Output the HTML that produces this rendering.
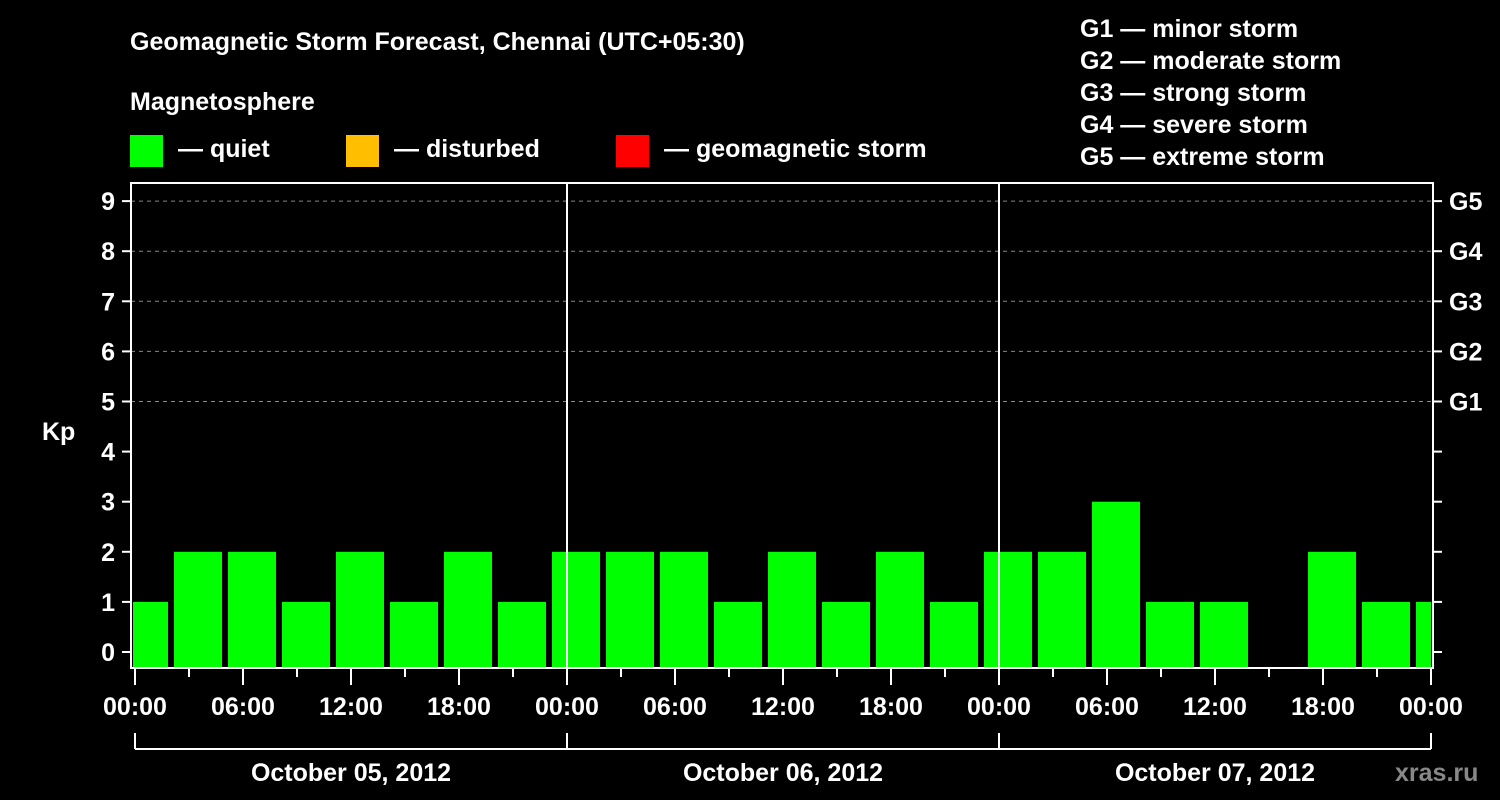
<!DOCTYPE html>
<html><head><meta charset="utf-8"><style>
html,body{margin:0;padding:0;background:#000;width:1500px;height:800px;overflow:hidden}
text{font-family:"Liberation Sans",Arial,sans-serif;font-weight:bold;fill:#fff}
</style></head><body>
<svg id="chart" width="1500" height="800" xmlns="http://www.w3.org/2000/svg">
<rect width="1500" height="800" fill="#000"/>
<text x="130" y="50" font-size="25">Geomagnetic Storm Forecast, Chennai (UTC+05:30)</text>
<text x="130" y="110" font-size="25">Magnetosphere</text>
<g><rect x="130" y="135" width="33" height="32" fill="#00ff00"/><text x="178" y="157" font-size="25">— quiet</text></g>
<g><rect x="346" y="135" width="33" height="32" fill="#ffbf00"/><text x="394" y="157" font-size="25">— disturbed</text></g>
<g><rect x="616" y="135" width="33" height="32" fill="#ff0000"/><text x="664" y="157" font-size="25">— geomagnetic storm</text></g>
<g font-size="25">
<text x="1080" y="37">G1 — minor storm</text>
<text x="1080" y="69">G2 — moderate storm</text>
<text x="1080" y="101">G3 — strong storm</text>
<text x="1080" y="133">G4 — severe storm</text>
<text x="1080" y="165">G5 — extreme storm</text>
</g>
<text x="42" y="440" font-size="25">Kp</text>
<text x="1395" y="781" font-size="25" style="fill:#888">xras.ru</text>
<g id="plot"></g>
</svg>
<script>
const kpValues=[1,2,2,1,2,1,2,1,2,2,2,1,2,1,2,1,2,2,3,1,1,0,2,1,1];
const yTicks=[0,1,2,3,4,5,6,7,8,9];
const gLabels=["G1","G2","G3","G4","G5"];
const gLevels=[5,6,7,8,9];
const hourLabels=["00:00","06:00","12:00","18:00","00:00","06:00","12:00","18:00","00:00","06:00","12:00","18:00","00:00"];
const dayLabels=["October 05, 2012","October 06, 2012","October 07, 2012"];
const firstBarCenterHour=0.5; // local hours (UTC+5:30 shift)

const L=131,R=1433,T=183,B=668,X0=135,PXH=18;
const y=v=>652-v*50.1;
const x=h=>X0+h*PXH;
const NS="http://www.w3.org/2000/svg";
const g=document.getElementById('plot');
function mk(tag,attrs,parent){const e=document.createElementNS(NS,tag);for(const k in attrs)e.setAttribute(k,attrs[k]);(parent||g).appendChild(e);return e;}

// grid
gLevels.forEach(v=>{
 const l=mk('line',{x1:L,x2:R,y1:y(v),y2:y(v),stroke:'#888','stroke-dasharray':'4,4','stroke-width':1});
 
 
});
// bars
const clip=mk('clipPath',{id:'pc'});mk('rect',{x:L+2,y:T,width:R-L-4,height:B-T},clip);
const bars=mk('g',{'clip-path':'url(#pc)'});
kpValues.forEach((v,i)=>{
 if(v<=0)return;
 const c=x(firstBarCenterHour+3*i);
 const r=mk('rect',{x:c-24,y:y(v),width:48,height:B-y(v),fill:v>=5?'#ff0000':(v>=4?'#ffbf00':'#00ff00')},bars);
 
 
});
// day separators
[1,2].forEach(d=>{
 const l=mk('line',{x1:x(24*d),x2:x(24*d),y1:T,y2:B,stroke:'#fff','stroke-width':2});
 
 
});
// frame
const f=mk('rect',{x:L,y:T,width:R-L,height:B-T,fill:'none',stroke:'#fff','stroke-width':2});


// y ticks
yTicks.forEach(v=>{
 mk('line',{x1:L-9,x2:L,y1:y(v),y2:y(v),stroke:'#fff','stroke-width':2});
 mk('line',{x1:R,x2:R+9,y1:y(v),y2:y(v),stroke:'#fff','stroke-width':2});
 const t=mk('text',{x:L-16,y:y(v)+9,'font-size':25,'text-anchor':'end'});t.textContent=v;
 
 
});
gLabels.forEach((s,i)=>{
 const t=mk('text',{x:1449,y:y(gLevels[i])+9,'font-size':25});t.textContent=s;
 
 
});
// x ticks
for(let h=0;h<=72;h+=3){
 const major=h%6===0;
 mk('line',{x1:x(h),x2:x(h),y1:B,y2:B+(major?17:9),stroke:'#fff','stroke-width':2});
}
hourLabels.forEach((s,i)=>{
 const t=mk('text',{x:x(6*i),y:715,'font-size':25,'text-anchor':'middle'});t.textContent=s;
 
 
});
// day brackets
mk('line',{x1:x(0),x2:x(72),y1:749,y2:749,stroke:'#fff','stroke-width':2});
for(let d=0;d<=3;d++)mk('line',{x1:x(24*d),x2:x(24*d),y1:733,y2:749,stroke:'#fff','stroke-width':2});
dayLabels.forEach((s,i)=>{
 const t=mk('text',{x:x(24*i+12),y:781,'font-size':25,'text-anchor':'middle'});t.textContent=s;
 
 
});
</script>
</body></html>
